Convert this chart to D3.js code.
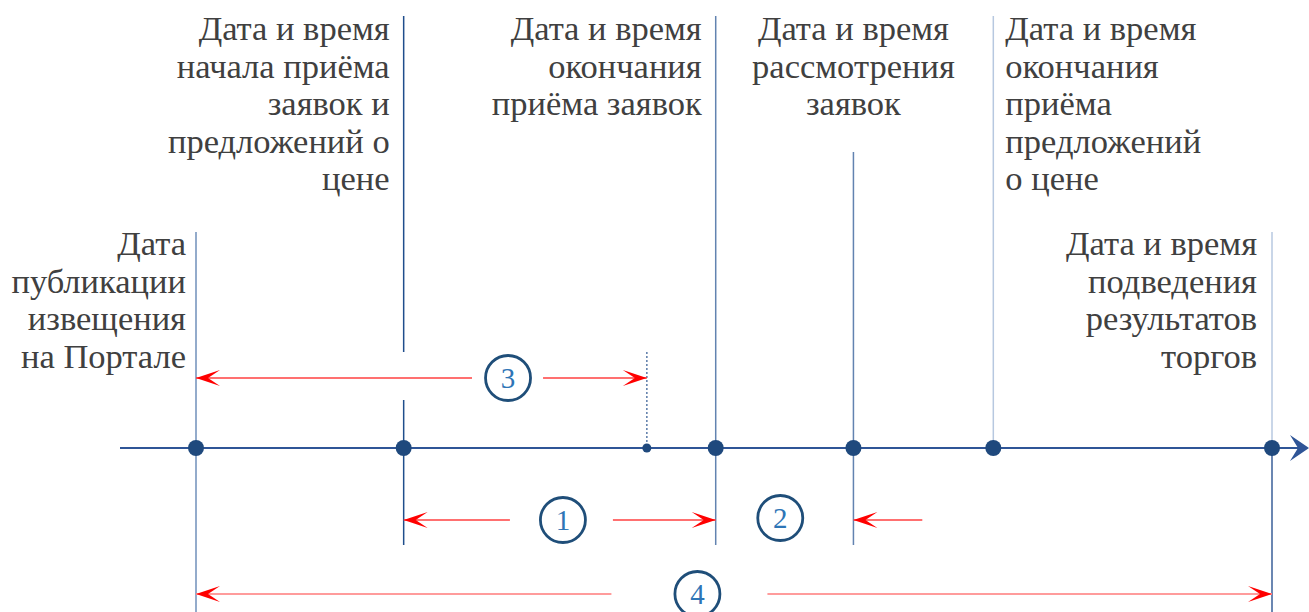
<!DOCTYPE html>
<html>
<head>
<meta charset="utf-8">
<script src="https://d3js.org/d3.v7.min.js"></script>
<style>
body { margin: 0; background: #fff; }
</style>
</head>
<body>
<div id="viz"></div>
<script>

//Events on the timeline (position in timeline units, 0 = publication, 100 = results)
var eventNames = ["publication", "bidsOpen", "bidsClose3", "bidsClose", "review", "pricesClose", "results"];
var eventPos = [0, 19.3, 41.9, 48.3, 61.1, 74.1, 100];
var eventMajor = [true, true, false, true, true, true, true];

//Label text for each event
var eventLabels = [
	["Дата", "публикации", "извещения", "на Портале"],
	["Дата и время", "начала приёма", "заявок и", "предложений о", "цене"],
	[],
	["Дата и время", "окончания", "приёма заявок"],
	["Дата и время", "рассмотрения", "заявок"],
	["Дата и время", "окончания", "приёма", "предложений", "о цене"],
	["Дата и время", "подведения", "результатов", "торгов"]
];

//Numbered periods
var spanNames = ["3", "1", "2", "4"];
var spanStart = [0, 19.3, 61.1, 0];
var spanEnd = [41.9, 48.3, 67.5, 100];
var spanBadge = [29.0, 34.1, 54.3, 46.6];

var width = 1309,
	height = 612;

var axisY = 448;

var x = d3.scaleLinear()
	.domain([0, 100])
	.range([196, 1272]);

var svg = d3.select("#viz")
	.append("svg")
	.attr("width", width)
	.attr("height", height);

//Vertical guide segments for each event: [top, bottom, colour, dashed]
var guides = [
	[[232, 612, "#6f8fba"]],
	[[16, 352, "#1f4e8c"], [400, 545, "#1f4e8c"]],
	[[352, 448, "#5a7aa8", true]],
	[[16, 545, "#6283b0"]],
	[[152, 545, "#6283b0"]],
	[[16, 448, "#b7c8e0"]],
	[[232, 448, "#b7c8e0"], [448, 612, "#3a5f98"]]
];

guides.forEach(function(segs, i) {
	segs.forEach(function(s) {
		svg.append("line")
		.attr("x1", x(eventPos[i]))
		.attr("x2", x(eventPos[i]))
		.attr("y1", s[0])
		.attr("y2", s[1])
		.attr("stroke", s[2])
		.attr("stroke-width", 1.5)
		.attr("stroke-dasharray", s[3] ? "2,2" : null);
	});
});

//Main axis with arrow
svg.append("line")
	.attr("x1", 120)
	.attr("x2", 1300)
	.attr("y1", axisY)
	.attr("y2", axisY)
	.attr("stroke", "#2f5597")
	.attr("stroke-width", 2);

svg.append("path")
	.attr("d", "M1309," + axisY + " L1290," + (axisY - 13) + " L1298," + axisY + " L1290," + (axisY + 13) + " Z")
	.attr("fill", "#2f5597");

//Event dots
svg.selectAll(".dot")
	.data(eventPos)
	.enter()
	.append("circle")
	.attr("class", "dot")
	.attr("cx", function(d) { return x(d); })
	.attr("cy", axisY)
	.attr("r", function(d, i) { return eventMajor[i] ? 8 : 4.5; })
	.attr("fill", "#1f497d");

//Label placement: anchor, x offset, first baseline
var labelLayout = [
	["end", -10, 255],
	["end", -14, 40],
	["end", 0, 0],
	["end", -14, 40],
	["middle", 0, 40],
	["start", 12, 40],
	["end", -15, 255]
];

var lineHeight = 37.5;

eventLabels.forEach(function(lines, i) {
	var lay = labelLayout[i];
	var t = svg.append("text")
		.attr("text-anchor", lay[0])
		.attr("font-family", "'Liberation Serif', 'DejaVu Serif', serif")
		.attr("font-size", 34.5)
		.attr("fill", "#404040");
	lines.forEach(function(l, j) {
		t.append("tspan")
		.attr("x", x(eventPos[i]) + lay[1])
		.attr("y", lay[2] + j * lineHeight)
		.text(l);
	});
});

//Red arrowhead pointing in direction dir (-1 left, 1 right)
function arrowHead(px, py, dir) {
	var p = [[px, py], [px - dir * 24, py - 8], [px - dir * 12, py], [px - dir * 24, py + 8]];
	svg.append("path")
	.attr("d", "M" + p.map(function(q) { return q.join(","); }).join("L") + "Z")
	.attr("fill", "#ff0000");
}

//Row and style for each numbered period
var spanLayout = [
	{ y: 378, gap: [36, 35], color: "#ff4040", w: 1.3 },
	{ y: 520, gap: [53, 50], color: "#ff4040", w: 1.3 },
	{ y: 520, gap: [0, 0], color: "#ff4040", w: 1.3 },
	{ y: 594, gap: [86, 70], color: "#ff9c9c", w: 2 }
];

spanNames.forEach(function(name, i) {
	var lay = spanLayout[i];
	var x0 = x(spanStart[i]),
		x1 = x(spanEnd[i]),
		xb = x(spanBadge[i]);

	if (xb > x0 && xb < x1) {
		svg.append("line")
		.attr("x1", x0).attr("x2", xb - lay.gap[0])
		.attr("y1", lay.y).attr("y2", lay.y)
		.attr("stroke", lay.color).attr("stroke-width", lay.w);
		svg.append("line")
		.attr("x1", xb + lay.gap[1]).attr("x2", x1)
		.attr("y1", lay.y).attr("y2", lay.y)
		.attr("stroke", lay.color).attr("stroke-width", lay.w);
		arrowHead(x0, lay.y, -1);
		arrowHead(x1, lay.y, 1);
	} else {
		svg.append("line")
		.attr("x1", x0).attr("x2", x1)
		.attr("y1", lay.y).attr("y2", lay.y)
		.attr("stroke", lay.color).attr("stroke-width", lay.w);
		arrowHead(x0, lay.y, -1);
	}

	//Number badge
	var by = i == 2 ? 518 : lay.y;
	svg.append("circle")
	.attr("cx", xb)
	.attr("cy", by)
	.attr("r", 22.5)
	.attr("fill", "#fff")
	.attr("stroke", "#1f4e79")
	.attr("stroke-width", 2.8);

	svg.append("text")
	.attr("x", xb)
	.attr("y", by + 10)
	.attr("text-anchor", "middle")
	.attr("font-family", "'Liberation Serif', serif")
	.attr("font-size", 29)
	.attr("fill", "#2e75b6")
	.text(name);
});

</script>
</body>
</html>
